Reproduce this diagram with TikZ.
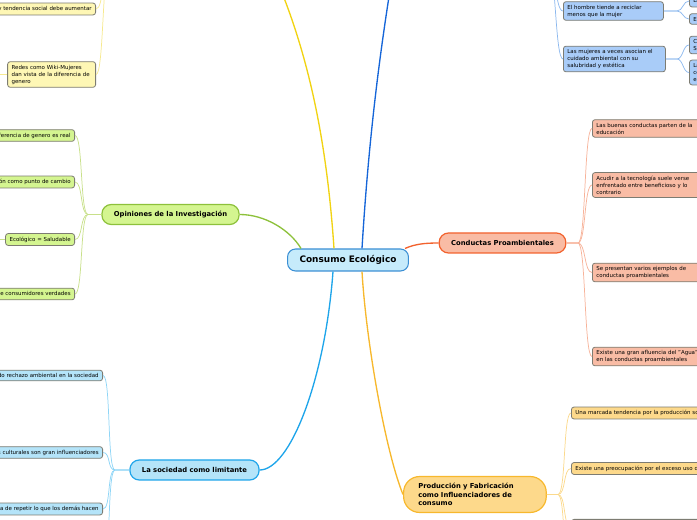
\documentclass[tikz,border=0pt]{standalone}
\usepackage{fontspec}
\setmainfont{DejaVu Sans}
\usepackage{xcolor}

\definecolor{rootfill}{HTML}{C6EBFB}
\definecolor{rootline}{HTML}{3B8FD4}
\definecolor{subline}{HTML}{7D7C72}
\definecolor{greenline}{HTML}{8DC13B}
\definecolor{greenfill}{HTML}{D4F590}
\definecolor{greentwig}{HTML}{C8E08A}
\definecolor{yellowline}{HTML}{F1D312}
\definecolor{yellowfill}{HTML}{FEF7B5}
\definecolor{yellowtwig}{HTML}{F6E98F}
\definecolor{blueline}{HTML}{1565D8}
\definecolor{bluefill}{HTML}{A9CCF8}
\definecolor{bluetwig}{HTML}{8CB8EE}
\definecolor{redline}{HTML}{F2622E}
\definecolor{salmonfill}{HTML}{F9BCA5}
\definecolor{salmontwig}{HTML}{F7B39A}
\definecolor{cyanline}{HTML}{1EA5EA}
\definecolor{cyanfill}{HTML}{B4E4F9}
\definecolor{cyantwig}{HTML}{8FD5F6}
\definecolor{goldline}{HTML}{F7B82D}
\definecolor{goldfill}{HTML}{FDD98B}
\definecolor{goldtwig}{HTML}{FBD98C}

\begin{document}
\begin{tikzpicture}[x=0.75pt, y=-0.75pt,
  root/.style={draw=rootline, fill=rootfill, line width=0.8pt, rounded corners=6pt, minimum height=16.5pt, inner xsep=9pt, font=\fontsize{6.7}{8}\selectfont\bfseries},
  topic/.style={line width=0.9pt, rounded corners=7pt, minimum height=15pt, inner xsep=9pt, font=\fontsize{5.1}{6.4}\selectfont\bfseries},
  sub/.style={draw=subline, line width=0.6pt, rounded corners=2pt, align=left, inner xsep=3pt, inner ysep=2.4pt, font=\fontsize{4.1}{5.25}\selectfont},
  branch/.style={line width=1pt},
  twig/.style={line width=0.55pt}]
\useasboundingbox (0,0) rectangle (697,520);
\clip (0,0) rectangle (697,520);

% main nodes
\node[root] (root) at (348,260) {Consumo Ecológico};
\node[topic, draw=greenline, fill=greenfill] (opin) at (170.5,214.5) {Opiniones de la Investigación};
\node[topic, draw=redline, fill=salmonfill] (cond) at (502.5,243) {Conductas Proambientales};
\node[topic, draw=cyanline, fill=cyanfill] (soc) at (194.5,470) {La sociedad como limitante};
\node[topic, draw=goldline, fill=goldfill, anchor=west, align=left, text width=85pt, inner xsep=11pt, inner ysep=5pt, rounded corners=12pt] (prod) at (403,494.5) {Producción y Fabricación\\como Influenciadores de\\consumo};
\coordinate (yel) at (268,-40);
\coordinate (blu) at (395,-40);

% main branches
\draw[branch, yellowline] ([xshift=-10.5pt]root.north) .. controls (326,130) and (305,40) .. (yel);
\draw[branch, blueline] ([xshift=10.5pt]root.north) .. controls (368,150) and (378,60) .. (blu);
\draw[branch, greenline] ([xshift=-35.25pt]root.north) .. controls (290,230) and (265,214.5) .. (opin.east);
\draw[branch, redline] ([xshift=42.75pt]root.north) .. controls (415,244) and (425,243) .. (cond.west);
\draw[branch, cyanline] ([xshift=-11.25pt]root.south) .. controls (325,380) and (290,470) .. (soc.east);
\draw[branch, goldline] ([xshift=10.5pt]root.south) .. controls (366,340) and (385,450) .. (prod.west);

% opiniones
\coordinate (opinhub) at (88,214.5);
\node[sub, fill=greenfill, anchor=east] (g1) at (75,135.5) {La diferencia de genero es real};
\node[sub, fill=greenfill, anchor=east] (g2) at (75,182) {La educación como punto de cambio};
\node[sub, fill=greenfill, anchor=east] (g3) at (75,239.5) {Ecológico = Saludable};
\node[sub, fill=greenfill, anchor=east] (g4) at (75,294) {Tipos de consumidores verdades};
\coordinate (g3out) at (-20,239.5);
\foreach \c in {g1,g2,g3,g4}
  \draw[twig, greentwig] (opin.west) -- (opinhub) .. controls +(-8,0) and +(8,0) .. (\c.east);
\draw[twig, greentwig] (g3.west) -- (g3out);

% rama amarilla
\coordinate (yelhub) at (110,-35);
\node[sub, fill=yellowfill, anchor=east] (y1) at (96,9) {Ser ecológico es moda y tendencia social debe aumentar};
\node[sub, fill=yellowfill, anchor=east, text width=60pt] (y2) at (96,74.5) {Redes como Wiki-Mujeres\\dan vista de la diferencia de\\genero};
\coordinate (y2out) at (-20,74.5);
\foreach \c in {y1,y2}
  \draw[twig, yellowtwig] (yelhub) .. controls +(-8,0) and +(8,0) .. (\c.east);
\draw[twig, yellowtwig] (y2.west) -- (y2out);

% rama azul
\coordinate (bluhub) at (548,-35);
\node[sub, fill=bluefill, anchor=west, text width=69pt] (b1) at (563,11) {El hombre tiende a reciclar\\menos que la mujer};
\node[sub, fill=bluefill, anchor=west, text width=70.5pt] (b2) at (563,59) {Las mujeres a veces asocian el\\cuidado ambiental con su\\salubridad y estética};
\node[sub, fill=bluefill, anchor=west, text width=70pt] (b11) at (689,1) {La mujer recicla más};
\node[sub, fill=bluefill, anchor=west, text width=70pt] (b12) at (689,19) {El hombre recicla menos};
\node[sub, fill=bluefill, anchor=west, text width=70pt] (b21) at (689,45) {Cuidado de la piel\\Salud};
\node[sub, fill=bluefill, anchor=west, text width=70pt] (b22) at (689,72.5) {La estética\\como\\elección};
\coordinate (b1hub) at (677,11);
\coordinate (b2hub) at (677,59);
\foreach \c in {b1,b2}
  \draw[twig, bluetwig] (bluhub) .. controls +(8,0) and +(-8,0) .. (\c.west);
\foreach \c in {b11,b12}
  \draw[twig, bluetwig] (b1.east) -- (b1hub) .. controls +(6,0) and +(-6,0) .. (\c.west);
\foreach \c in {b21,b22}
  \draw[twig, bluetwig] (b2.east) -- (b2hub) .. controls +(6,0) and +(-6,0) .. (\c.west);

% conductas
\coordinate (condhub) at (578,243);
\node[sub, fill=salmonfill, anchor=west, text width=88pt] (c1) at (592,128.5) {Las buenas conductas parten de la\\educación};
\node[sub, fill=salmonfill, anchor=west, text width=88pt] (c2) at (592,185) {Acudir a la tecnología suele verse\\enfrentado entre beneficioso y lo\\contrario};
\node[sub, fill=salmonfill, anchor=west, text width=88pt] (c3) at (592,272.5) {Se presentan varios ejemplos de\\conductas proambientales};
\node[sub, fill=salmonfill, anchor=west, text width=88pt] (c4) at (592,356.5) {Existe una gran afluencia del "Agua"\\en las conductas proambientales};
\foreach \c in {c1,c2,c3,c4}
  \draw[twig, salmontwig] (cond.east) -- (condhub) .. controls +(8,0) and +(-8,0) .. (\c.west);

% sociedad
\coordinate (sochub) at (115,470);
\node[sub, fill=cyanfill, anchor=east] (s1) at (103,375.5) {Existe un marcado rechazo ambiental en la sociedad};
\node[sub, fill=cyanfill, anchor=east] (s2) at (103,452.5) {Los aspectos culturales son gran influenciadores};
\node[sub, fill=cyanfill, anchor=east] (s3) at (103,509) {Existe una tendencia de repetir lo que los demás hacen};
\coordinate (s4) at (103,570);
\foreach \c in {s1,s2,s3}
  \draw[twig, cyantwig] (soc.west) -- (sochub) .. controls +(-8,0) and +(8,0) .. (\c.east);
\draw[twig, cyantwig] (sochub) .. controls +(-8,0) and +(8,0) .. (s4);

% produccion
\coordinate (prodhub) at (558,494.5);
\node[sub, fill=goldfill, anchor=west, text width=130pt] (p1) at (571,413) {Una marcada tendencia por la producción sostenible};
\node[sub, fill=goldfill, anchor=west, text width=130pt] (p2) at (571,468.5) {Existe una preocupación por el exceso uso de plásticos};
\node[sub, fill=goldfill, anchor=north west, minimum width=136pt, minimum height=12pt] (p3) at (571,519) {};
\coordinate (p4) at (571,590);
\foreach \c in {p1,p2,p3}
  \draw[twig, goldtwig] (prod.east) -- (prodhub) .. controls +(8,0) and +(-8,0) .. (\c.west);
\draw[twig, goldtwig] (prodhub) .. controls +(8,0) and +(-8,0) .. (p4);
\end{tikzpicture}
\end{document}
